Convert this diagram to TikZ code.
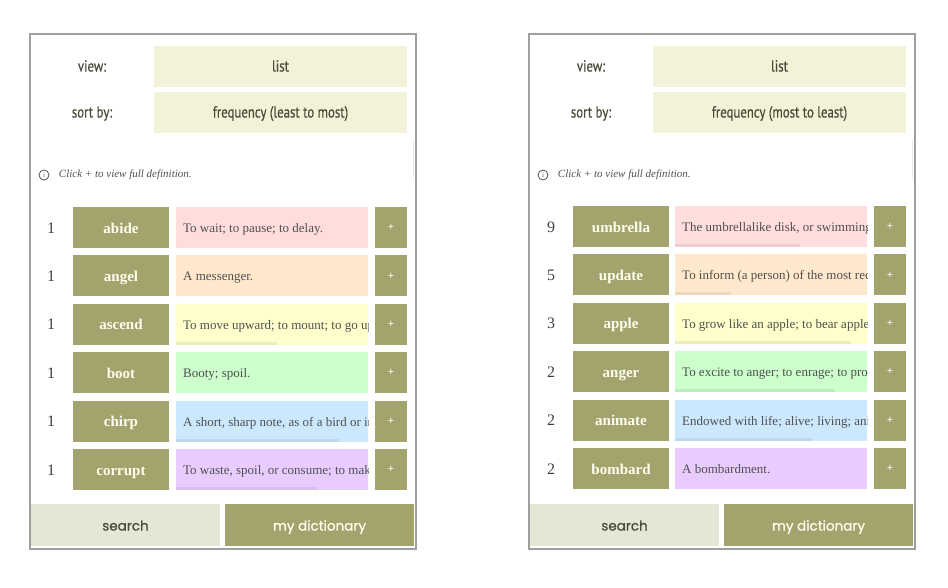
\documentclass[tikz,border=0pt]{standalone}
\usepackage{fontspec}
\setmainfont{Liberation Serif}
\newfontfamily\headfont[FakeStretch=0.8,FakeBold=0.6]{PT Sans}
\newfontfamily\btnfont[FakeBold=0.8]{Poppins}
\definecolor{wordolive}{HTML}{A3A36E}
\definecolor{hdrfill}{HTML}{F2F2D8}
\definecolor{srchfill}{HTML}{E6E6D6}
\definecolor{hdrtext}{HTML}{4B4B3B}
\definecolor{deftext}{HTML}{505050}
\definecolor{defpink}{HTML}{FFDDDD}
\definecolor{defpeach}{HTML}{FFE8CC}
\definecolor{defyellow}{HTML}{FFFFCC}
\definecolor{defgreen}{HTML}{CCFFCC}
\definecolor{defblue}{HTML}{CCE8FF}
\definecolor{defpurple}{HTML}{E8CCFF}
\tikzset{
  panel/.style={draw=gray!75, line width=1.6},
  hdrbox/.style={fill=hdrfill, minimum width=253, minimum height=41, inner sep=0, outer sep=0,
    anchor=north west, text=hdrtext, text height=10, text depth=0,
    font=\headfont\fontsize{16}{16}\selectfont},
  hdrlabel/.style={text=hdrtext, text height=10, text depth=0, font=\headfont\fontsize{16}{16}\selectfont},
  infotext/.style={text=deftext, font=\itshape\fontsize{11}{11}\selectfont, anchor=west},
  countnum/.style={text=black!75, text height=11, text depth=0, font=\fontsize{16}{16}\selectfont},
  wordbox/.style={fill=wordolive, minimum width=96, minimum height=41, inner sep=0, outer sep=0,
    anchor=north west, text=white!93!yellow, text height=11, text depth=0,
    font=\bfseries\fontsize{15}{15}\selectfont},
  defbox/.style={minimum width=192, minimum height=41, inner sep=0, outer sep=0, anchor=north west},
  defline/.style={text=deftext, font=\fontsize{13}{13}\selectfont, anchor=base west, inner sep=0},
  defbar/.style={fill=black, opacity=0.07},
  plusbox/.style={fill=wordolive, minimum width=32, minimum height=41, inner sep=0, outer sep=0,
    anchor=north west, text=white, font=\bfseries\fontsize{11}{11}\selectfont},
  srchbtn/.style={fill=srchfill, minimum width=189, minimum height=42, inner sep=0, outer sep=0,
    anchor=north west, text=hdrtext, text height=11, text depth=0,
    font=\btnfont\fontsize{13.5}{13.5}\selectfont},
  dictbtn/.style={srchbtn, fill=wordolive, text=white!92!yellow},
}
\begin{document}
\begin{tikzpicture}[x=1pt,y=-1pt]
\useasboundingbox (0,0) rectangle (948,587);
% frame, header and buttons of both screens
\foreach \p/\px/\sortby in {l/0/least to most, r/499/most to least}{
  \begin{scope}[shift={(\px,0)}]
    \draw[panel] (30,34) rectangle (416,549);
    \draw[gray!15, line width=1] (413,140) -- (413,178);
    \node[hdrlabel] (view\p) at (92,66.5) {view:};
    \node[hdrbox] (list\p) at (154,46) {list};
    \node[hdrlabel] (sort\p) at (92,112.5) {sort by:};
    \node[hdrbox] (freq\p) at (154,92) {frequency (\sortby)};
    \node[circle, draw=deftext, line width=0.8, minimum size=10, inner sep=0,
      text=deftext, font=\fontsize{7}{7}\selectfont] (info\p) at (44,175) {i};
    \node[infotext] (hint\p) at ([xshift=6]info\p.east) {Click + to view full definition.};
    \node[srchbtn] (search\p) at (31,504) {search};
    \node[dictbtn] (mydict\p) at (225,504) {my dictionary};
  \end{scope}
}
% rows, left screen
\foreach \n/\w/\d/\c/\b [count=\i] in {
  1/abide/{To wait; to pause; to delay.}/defpink/0,
  1/angel/{A messenger.}/defpeach/0,
  1/ascend/{To move upward; to mount; to go up}/defyellow/101,
  1/boot/{Booty; spoil.}/defgreen/0,
  1/chirp/{A short, sharp note, as of a bird or in}/defblue/163,
  1/corrupt/{To waste, spoil, or consume; to mak}/defpurple/141}{
  \pgfmathsetmacro\y{207+48.4*(\i-1)}
  \node[countnum] (lnum\i) at (51,\y+20.5) {\n};
  \node[wordbox] (lword\i) at (73,\y) {\w};
  \node[defbox, fill=\c] (ldef\i) at (176,\y) {};
  \begin{scope}
    \clip (ldef\i.south west) rectangle (ldef\i.north east);
    \node[defline] (ltext\i) at ([xshift=7,yshift=-5]ldef\i.west) {\d};
    \fill[defbar] (ldef\i.south west) rectangle ++(\b,-3);
  \end{scope}
  \node[plusbox] (lplus\i) at (375,\y) {+};
}
% rows, right screen
\foreach \n/\w/\d/\c/\b [count=\i] in {
  9/umbrella/{The umbrellalike disk, or swimming}/defpink/125,
  5/update/{To inform (a person) of the most rec}/defpeach/56,
  3/apple/{To grow like an apple; to bear apple}/defyellow/176,
  2/anger/{To excite to anger; to enrage; to pro}/defgreen/160,
  2/animate/{Endowed with life; alive; living; ani}/defblue/137,
  2/bombard/{A bombardment.}/defpurple/0}{
  \pgfmathsetmacro\y{206+48.4*(\i-1)}
  \node[countnum] (rnum\i) at (551,\y+20.5) {\n};
  \node[wordbox] (rword\i) at (573,\y) {\w};
  \node[defbox, fill=\c] (rdef\i) at (675,\y) {};
  \begin{scope}
    \clip (rdef\i.south west) rectangle (rdef\i.north east);
    \node[defline] (rtext\i) at ([xshift=7,yshift=-5]rdef\i.west) {\d};
    \fill[defbar] (rdef\i.south west) rectangle ++(\b,-3);
  \end{scope}
  \node[plusbox] (rplus\i) at (874,\y) {+};
}
\end{tikzpicture}
\end{document}
